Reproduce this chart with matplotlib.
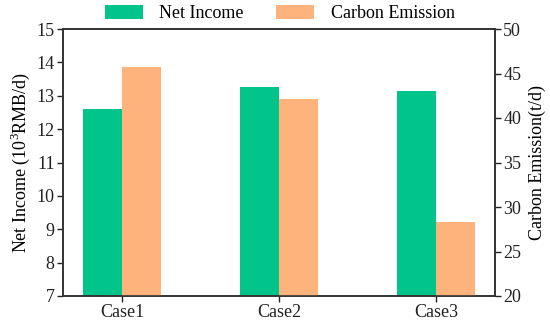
import matplotlib.pyplot as plt
import numpy as np

plt.rcParams['font.family'] = ['Liberation Serif', 'DejaVu Serif']
plt.rcParams['mathtext.fontset'] = 'custom'
plt.rcParams['mathtext.rm'] = 'Liberation Serif'

cases = ["Case1", "Case2", "Case3"]
net_income = [12.61, 13.27, 13.15]
carbon_emission = [45.7, 42.1, 28.3]

green = "#00C48A"
orange = "#FDB37B"

fig = plt.figure(figsize=(5.5, 3.25), dpi=100)
ax = fig.add_axes([63 / 550, 29 / 325, 432 / 550, 267 / 325])
ax2 = ax.twinx()

x = np.arange(len(cases))
w = 0.25
b1 = ax.bar(x - w / 2, np.array(net_income) - 7, w, bottom=7, color=green, label="Net Income")
b2 = ax2.bar(x + w / 2, np.array(carbon_emission) - 20, w, bottom=20, color=orange, label="Carbon Emission")

ax.set_xlim(-0.376, 2.376)
ax.set_ylim(7, 15)
ax2.set_ylim(20, 50)
ax.set_yticks(range(7, 16))
ax2.set_yticks(range(20, 51, 5))
ax.set_xticks(x)
ax.set_xticklabels(cases)

for a in (ax, ax2):
    a.tick_params(labelsize=13, direction="out", length=4, width=1, pad=2, colors="#222222")
    for s in a.spines.values():
        s.set_linewidth(1.2)
        s.set_color("#333333")

ax.set_ylabel("Net Income (10$^3$RMB/d)", fontsize=13, labelpad=3)
ax2.set_ylabel("Carbon Emission(t/d)", fontsize=13, labelpad=5)

fig.legend(handles=[b1, b2], loc="upper center", bbox_to_anchor=(0.509, 1.035), ncol=2,
           frameon=False, fontsize=13, handlelength=2.1, handleheight=0.8,
           handletextpad=0.9, columnspacing=1.8)

fig.savefig("out.png", dpi=100)
